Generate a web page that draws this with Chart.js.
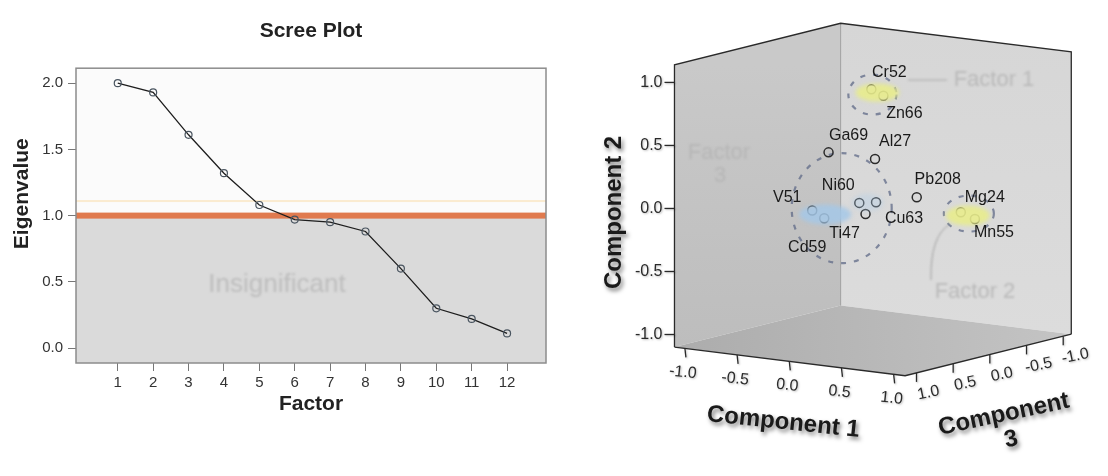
<!DOCTYPE html>
<html>
<head>
<meta charset="utf-8">
<script src="https://cdn.jsdelivr.net/npm/chart.js@4.4.0/dist/chart.umd.min.js"></script>
<style>
  html, body { margin: 0; padding: 0; background: #fff; }
  #scree { position: absolute; left: 0; top: 0; }
  #componentes { position: absolute; left: 560px; top: 0; }
</style>
</head>
<body>
<canvas id="scree" width="560" height="476"></canvas>
<canvas id="componentes" width="548" height="476"></canvas>
<script>
// SCREE PLOT
const factores = [1, 2, 3, 4, 5, 6, 7, 8, 9, 10, 11, 12];
const autovalores = [2.00, 1.93, 1.61, 1.32, 1.08, 0.97, 0.95, 0.88, 0.60, 0.30, 0.22, 0.11];
const ticksAutovalor = [0.0, 0.5, 1.0, 1.5, 2.0];
const corteKaiser = 1.0;

// COMPONENTES (cargas)
const elementos = ['Cr52', 'Zn66', 'Ga69', 'Al27', 'Pb208', 'Ni60', 'Cu63', 'Ti47', 'V51', 'Cd59', 'Mg24', 'Mn55'];
const componente1 = [0.08, 0.16, -0.26, 0.08, 0.55, 0.07, 0.16, 0.20, -0.10, -0.02, 0.41, 0.51];
const componente2 = [0.92, 0.87, 0.40, 0.36, 0.12, 0.04, 0.04, -0.02, 0.02, -0.04, -0.13, -0.18];
const componente3 = [0.15, 0.10, 0.25, 0.10, 0.20, 0.30, 0.20, 0.40, 0.70, 0.65, -0.60, -0.65];
const ticksComponente = [-1.0, -0.5, 0.0, 0.5, 1.0];
const factor1 = ['Cr52', 'Zn66'];
const factor2 = ['Mg24', 'Mn55'];
const factor3 = ['Ga69', 'Al27', 'Ni60', 'Cu63', 'Ti47', 'V51', 'Cd59'];

const fuente = '"Liberation Sans", Arial, sans-serif';
Chart.defaults.font.family = fuente;

function texto(ctx, t, x, y, rot, font, color, align) {
    ctx.save();
    ctx.translate(x, y);
    ctx.rotate(rot * Math.PI / 180);
    ctx.font = font;
    ctx.fillStyle = color;
    ctx.textAlign = align || 'center';
    ctx.textBaseline = 'middle';
    ctx.fillText(t, 0, 0);
    ctx.restore();
};

function linea(ctx, pts, color, ancho) {
    ctx.beginPath();
    ctx.moveTo(pts[0][0], pts[0][1]);
    pts.slice(1).forEach(p => ctx.lineTo(p[0], p[1]));
    ctx.strokeStyle = color;
    ctx.lineWidth = ancho;
    ctx.stroke();
};

function relleno(ctx, pts, fill) {
    ctx.beginPath();
    ctx.moveTo(pts[0][0], pts[0][1]);
    pts.slice(1).forEach(p => ctx.lineTo(p[0], p[1]));
    ctx.closePath();
    ctx.fillStyle = fill;
    ctx.fill();
};

const fondoScree = {
    id: 'fondoScree',
    beforeDatasetsDraw(chart) {
        const {ctx, chartArea: a, scales: {x, y}} = chart;
        const yc = y.getPixelForValue(corteKaiser);
        ctx.save();
        ctx.fillStyle = '#fbfbfb';
        ctx.fillRect(a.left, a.top, a.width, yc - a.top);
        ctx.fillStyle = '#dadada';
        ctx.fillRect(a.left, yc, a.width, a.bottom - yc);
        ctx.filter = 'blur(1.2px)';
        texto(ctx, 'Insignificant', x.getPixelForValue(5.5), y.getPixelForValue(0.48), 0, '26px ' + fuente, '#bdbdbd');
        ctx.filter = 'none';
        ctx.fillStyle = 'rgba(250,228,190,0.7)';
        ctx.fillRect(a.left, y.getPixelForValue(1.11) - 1, a.width, 2);
        ctx.fillStyle = '#e07a4e';
        ctx.fillRect(a.left, yc - 3, a.width, 6);
        ctx.strokeStyle = '#8c8c8c';
        ctx.lineWidth = 1.5;
        ctx.strokeRect(a.left, a.top, a.width, a.height);
        ctx.restore();
    },
    afterDraw(chart) {
        const a = chart.chartArea;
        texto(chart.ctx, 'Eigenvalue', 22.5, a.top + 125.5, -90, 'bold 21px ' + fuente, '#222');
    }
};

const graficoScree = new Chart(document.getElementById('scree'), {
    type: 'line',
    data: {
        datasets: [{
            data: factores.map((f, i) => ({x: f, y: autovalores[i]})),
            borderColor: '#1e1e1e',
            borderWidth: 1.3,
            pointRadius: 3.5,
            pointBorderColor: '#4a5560',
            pointBackgroundColor: 'rgba(0,0,0,0)',
            pointBorderWidth: 1.2
        }]
    },
    options: {
        responsive: false,
        animation: false,
        layout: {padding: {left: 0, right: 14, top: 0, bottom: 0}},
        plugins: {
            legend: {display: false},
            tooltip: {enabled: false},
            title: {
                display: true, text: 'Scree Plot', fullSize: false, color: '#222',
                font: {size: 21, weight: 'bold'}, padding: {top: 19, bottom: 24}
            }
        },
        scales: {
            x: {
                type: 'linear', min: -0.18, max: 13.1,
                afterBuildTicks: s => { s.ticks = factores.map(v => ({value: v})); },
                afterFit: s => { s.height = 113; },
                grid: {drawOnChartArea: false, tickLength: 8, color: '#777'},
                border: {display: false},
                ticks: {font: {size: 15}, color: '#333', padding: 3, maxRotation: 0},
                title: {display: true, text: 'Factor', color: '#222', font: {size: 21, weight: 'bold'}, padding: {top: 0, bottom: 59}}
            },
            y: {
                min: -0.113, max: 2.113,
                afterBuildTicks: s => { s.ticks = ticksAutovalor.map(v => ({value: v})); },
                afterFit: s => { s.width = 76; },
                grid: {drawOnChartArea: false, tickLength: 8, color: '#777'},
                border: {display: false},
                ticks: {font: {size: 15}, color: '#333', padding: 5, callback: v => v.toFixed(1)}
            }
        }
    },
    plugins: [fondoScree]
});

// GRAFICO 3D
const rango1 = [-1.1, 1.11];
const rango2 = [-1.1, 1.14];
const rango3 = [-1.11, 1.155];

function vista(c1, c2, c3) {
    return {x: 106.7 * c1 - 75 * c3, y: -13.3 * c1 + 129.3 * c2 - 18.8 * c3};
};

function punto(chart, c1, c2, c3) {
    const v = vista(c1, c2, c3);
    return [chart.scales.x.getPixelForValue(v.x), chart.scales.y.getPixelForValue(v.y)];
};

function centroGrupo(chart, grupo) {
    let sx = 0, sy = 0;
    grupo.forEach(n => {
        const i = elementos.indexOf(n);
        const p = punto(chart, componente1[i], componente2[i], componente3[i]);
        sx += p[0]; sy += p[1];
    });
    return [sx / grupo.length, sy / grupo.length];
};

const desplazaEtiqueta = {
    Cr52: [18, -17], Zn66: [21, 18], Ga69: [20, -17], Al27: [20, -17], Pb208: [21, -18], Ni60: [-21, -17],
    Cu63: [28, 16], Ti47: [-21, 20], V51: [-25, -13], Cd59: [-17, 29], Mg24: [24, -15], Mn55: [19, 14]
};

const elipses = [
    {grupo: factor1, dx: -5, dy: 2, rx: 24, ry: 20},
    {grupo: factor2, dx: 1, dy: -2, rx: 25, ry: 18},
    {grupo: factor3, dx: -7, dy: 14, rx: 50, ry: 55}
];

const manchas = [
    {grupo: ['Ni60', 'Cu63'], color: 'rgba(175,205,235,0.35)', dx: 0, rx: 16, ry: 9},
    {grupo: factor1, color: 'rgba(232,236,140,0.9)', dx: 0, rx: 22, ry: 9},
    {grupo: factor2, color: 'rgba(232,236,140,0.9)', dx: 0, rx: 22, ry: 10},
    {grupo: ['V51', 'Cd59'], color: 'rgba(165,200,232,0.85)', dx: 7, rx: 26, ry: 10}
];

const caja3d = {
    id: 'caja3d',
    beforeDatasetsDraw(chart) {
        const ctx = chart.ctx;
        const P = (a, b, c) => punto(chart, a, b, c);
        const [m1, M1] = rango1, [m2, M2] = rango2, [m3, M3] = rango3;
        ctx.save();
        let g = ctx.createLinearGradient(0, P(m1, M2, m3)[1], 0, P(M1, m2, m3)[1]);
        g.addColorStop(0, '#d6d6d6');
        g.addColorStop(1, '#dcdcdc');
        relleno(ctx, [P(m1, m2, m3), P(M1, m2, m3), P(M1, M2, m3), P(m1, M2, m3)], g);
        g = ctx.createLinearGradient(0, P(m1, M2, M3)[1], 0, P(m1, m2, M3)[1]);
        g.addColorStop(0, '#c9c9c9');
        g.addColorStop(1, '#bdbdbd');
        relleno(ctx, [P(m1, m2, M3), P(m1, m2, m3), P(m1, M2, m3), P(m1, M2, M3)], g);
        const iz = P(m1, m2, M3), de = P(M1, m2, m3);
        g = ctx.createLinearGradient(iz[0], iz[1], de[0], de[1]);
        g.addColorStop(0, '#acacac');
        g.addColorStop(1, '#c4c4c4');
        relleno(ctx, [P(m1, m2, M3), P(M1, m2, M3), P(M1, m2, m3), P(m1, m2, m3)], g);
        linea(ctx, [P(m1, m2, m3), P(m1, M2, m3)], '#a0a0a0', 1);
        linea(ctx, [P(m1, m2, M3), P(m1, M2, M3), P(m1, M2, m3), P(M1, M2, m3), P(M1, m2, m3)], '#2a2a2a', 1.3);
        linea(ctx, [P(m1, m2, M3), P(M1, m2, M3), P(M1, m2, m3)], '#2a2a2a', 1.3);

        // ticks
        ctx.shadowColor = 'rgba(0,0,0,0.25)';
        ctx.shadowBlur = 2;
        ctx.shadowOffsetX = 1;
        ctx.shadowOffsetY = 1;
        const ft = '16px ' + fuente;
        ticksComponente.forEach(v => {
            const t = v.toFixed(1);
            const [x2, y2] = P(m1, v, M3);
            linea(ctx, [[x2 - 10, y2], [x2, y2]], '#2a2a2a', 1.3);
            texto(ctx, t, x2 - 12, y2, 0, ft, '#2a2a2a', 'right');
            const [x1, y1] = P(v, m2, M3);
            linea(ctx, [[x1, y1], [x1 + 1, y1 + 9]], '#2a2a2a', 1.3);
            texto(ctx, t, x1 - 2, y1 + 24, 6, ft, '#2a2a2a');
            const [x3, y3] = P(M1, m2, v);
            linea(ctx, [[x3, y3], [x3, y3 + 9]], '#2a2a2a', 1.3);
            texto(ctx, t, x3 + 12, y3 + 20, -12, ft, '#2a2a2a');
        });

        // titulos de ejes
        ctx.shadowColor = 'rgba(0,0,0,0.5)';
        ctx.shadowBlur = 4;
        ctx.shadowOffsetX = 2;
        ctx.shadowOffsetY = 3;
        const fb = 'bold 24px ' + fuente;
        const t1 = P(0, m2, M3);
        texto(ctx, 'Component 1', t1[0] - 6, t1[1] + 61, 6, fb, '#1a1a1a');
        const t2 = P(m1, 0, M3);
        texto(ctx, 'Component 2', t2[0] - 60, t2[1] + 4, -90, fb, '#1a1a1a');
        const t3 = P(M1, m2, 0);
        ctx.save();
        ctx.translate(t3[0] + 14, t3[1] + 60);
        ctx.rotate(-12 * Math.PI / 180);
        texto(ctx, 'Component', 0, 0, 0, fb, '#1a1a1a');
        texto(ctx, '3', 2, 26, 0, fb, '#1a1a1a');
        ctx.restore();
        ctx.shadowColor = 'rgba(0,0,0,0)';

        // anotaciones tenues
        const fa = '22px ' + fuente;
        ctx.filter = 'blur(0.8px)';
        texto(ctx, 'Factor 1', 434, 80, 0, fa, '#b9b9b9');
        linea(ctx, [[348, 80], [387, 80]], '#a8a8a8', 1);
        texto(ctx, 'Factor 2', 415, 292, 0, fa, '#b9b9b9');
        ctx.beginPath();
        ctx.moveTo(390, 224);
        ctx.quadraticCurveTo(370, 236, 371, 280);
        ctx.strokeStyle = '#a0a0a0';
        ctx.lineWidth = 1;
        ctx.stroke();
        texto(ctx, 'Factor', 159, 153, 0, fa, '#b6b6b6');
        texto(ctx, '3', 160, 176, 0, fa, '#b6b6b6');
        ctx.filter = 'none';

        // elipses discontinuas
        ctx.setLineDash([5, 8]);
        elipses.forEach(e => {
            const c = centroGrupo(chart, e.grupo);
            ctx.beginPath();
            ctx.ellipse(c[0] + e.dx, c[1] + e.dy, e.rx, e.ry, 0, 0, Math.PI * 2);
            ctx.strokeStyle = 'rgba(95,105,135,0.75)';
            ctx.lineWidth = 2.2;
            ctx.stroke();
        });
        ctx.setLineDash([]);
        ctx.restore();
    },
    afterDatasetsDraw(chart) {
        const ctx = chart.ctx;
        ctx.save();
        ctx.filter = 'blur(2px)';
        manchas.forEach(m => {
            const c = centroGrupo(chart, m.grupo);
            ctx.beginPath();
            ctx.ellipse(c[0] + m.dx, c[1], m.rx, m.ry, 0, 0, Math.PI * 2);
            ctx.fillStyle = m.color;
            ctx.fill();
        });
        ctx.filter = 'none';
        elementos.forEach((n, i) => {
            const p = punto(chart, componente1[i], componente2[i], componente3[i]);
            const d = desplazaEtiqueta[n];
            texto(ctx, n, p[0] + d[0], p[1] + d[1], 0, '16px ' + fuente, '#1a1a1a');
        });
        ctx.restore();
    }
};

const graficoComponentes = new Chart(document.getElementById('componentes'), {
    type: 'scatter',
    data: {
        datasets: [{
            data: elementos.map((n, i) => vista(componente1[i], componente2[i], componente3[i])),
            pointRadius: 4.5,
            pointBorderWidth: 1.5,
            pointBorderColor: '#2b2b2b',
            pointBackgroundColor: 'rgba(0,0,0,0)'
        }]
    },
    options: {
        responsive: false,
        animation: false,
        layout: {padding: 0},
        plugins: {legend: {display: false}, tooltip: {enabled: false}},
        scales: {
            x: {type: 'linear', display: false, min: -314.9, max: 233.1},
            y: {type: 'linear', display: false, min: -275.4, max: 200.6}
        }
    },
    plugins: [caja3d]
});
</script>
</body>
</html>
